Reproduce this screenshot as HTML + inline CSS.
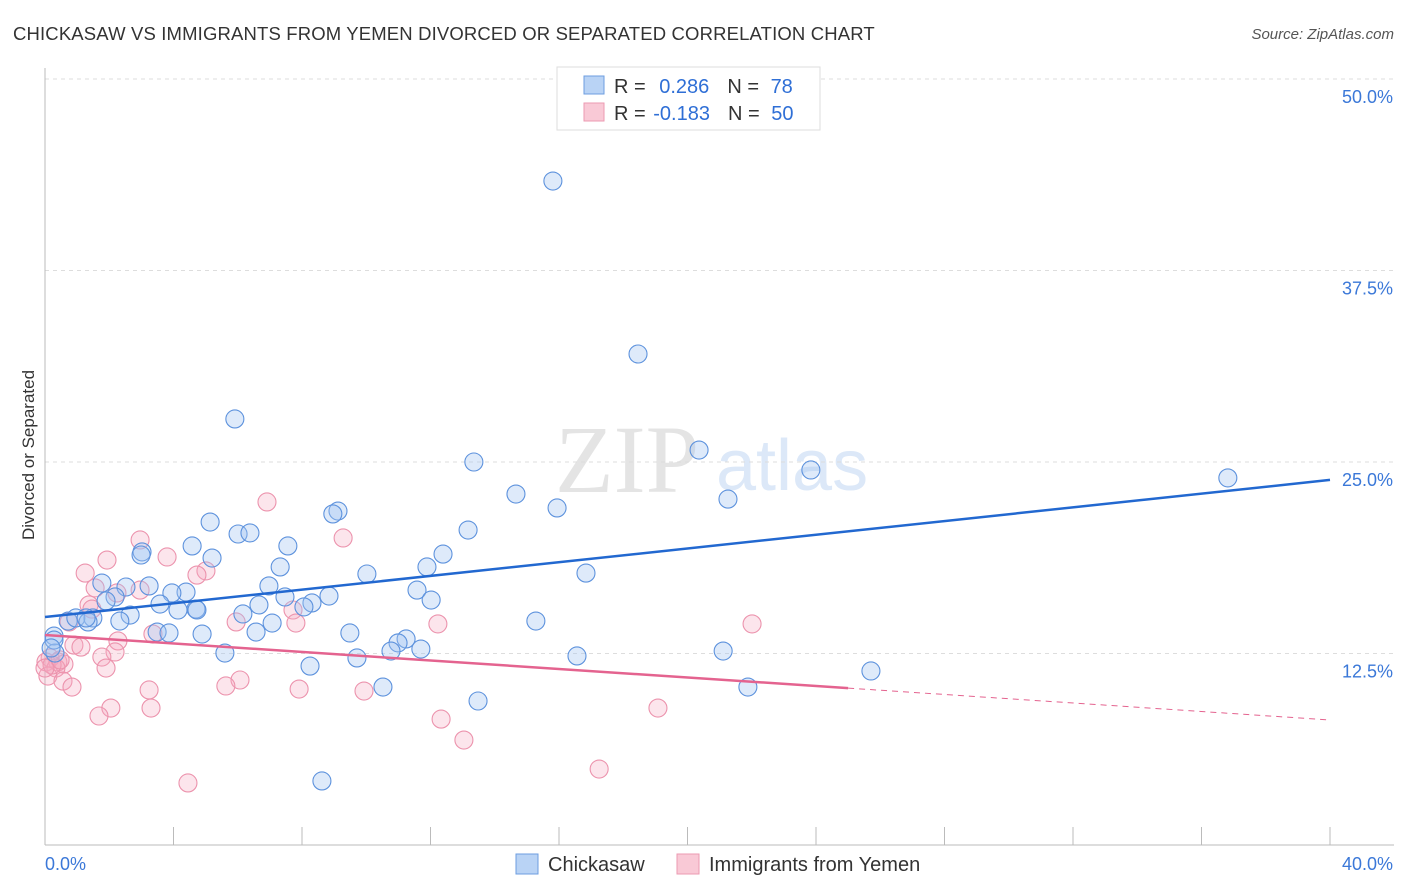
<!DOCTYPE html>
<html><head><meta charset="utf-8"><style>
body{margin:0;background:#fff;font-family:"Liberation Sans",sans-serif;}
svg{display:block}
</style></head><body>
<svg id="chart" width="1406" height="892">
<text x="13" y="40" font-size="18.5" letter-spacing="0.15" fill="#333">CHICKASAW VS IMMIGRANTS FROM YEMEN DIVORCED OR SEPARATED CORRELATION CHART</text>
<text x="1394" y="39" font-size="15" fill="#555" font-style="italic" text-anchor="end">Source: ZipAtlas.com</text>
<text x="34" y="455" font-size="17" fill="#333" text-anchor="middle" transform="rotate(-90 34 455)">Divorced or Separated</text>
<g>
<text x="555" y="492" font-size="96" fill="#e4e4e4" font-family="Liberation Serif,serif">ZIP</text>
<text x="716" y="490" font-size="72" fill="#dce8f8">atlas</text>
</g>
<g id="grid"></g><g id="axes"></g><g id="pink"></g><g id="blue"></g><g id="lines"></g>
<g>
<rect x="557" y="67" width="263" height="63" fill="#fff" stroke="#ddd"/>
<rect x="584" y="76" width="20" height="18" fill="#b9d3f5" stroke="#6d9ee0"/>
<rect x="584" y="103" width="20" height="18" fill="#f9c9d6" stroke="#ec9ab2"/>
<text x="614" y="93" font-size="20" fill="#333">R = <tspan fill="#2f6fd6" dx="8">0.286</tspan><tspan dx="18" fill="#333">N = </tspan><tspan fill="#2f6fd6" dx="6">78</tspan></text>
<text x="614" y="120" font-size="20" fill="#333">R = <tspan fill="#2f6fd6" dx="2">-0.183</tspan><tspan dx="18" fill="#333">N = </tspan><tspan fill="#2f6fd6" dx="6">50</tspan></text>
</g>
<g>
<rect x="516" y="854" width="22" height="20" fill="#b9d3f5" stroke="#6d9ee0"/>
<text x="548" y="871" font-size="20" fill="#333">Chickasaw</text>
<rect x="677" y="854" width="22" height="20" fill="#f9c9d6" stroke="#ec9ab2"/>
<text x="709" y="871" font-size="20" fill="#333">Immigrants from Yemen</text>
</g>
</svg>
<script>
const xTicks=[0,4,8,12,16,20,24,28,32,36,40];
const yTicks=[12.5,25,37.5,50];
const yTickLabels=["12.5%","25.0%","37.5%","50.0%"];
const xEndLabels=["0.0%","40.0%"];
const blueX=[15.81,18.46,5.91,20.36,13.35,23.84,36.82,14.66,21.26,15.94,5.14,9.12,8.96,13.17,6.01,6.38,3.02,4.58,7.56,12.39,5.20,11.89,7.32,10.02,16.84,1.77,2.52,6.97,3.24,4.39,3.95,2.18,7.47,11.58,8.31,8.84,1.90,3.58,12.02,4.70,4.14,8.06,6.66,6.16,2.65,1.49,0.72,0.96,2.33,1.34,15.28,7.07,3.49,3.86,6.57,4.89,9.49,0.28,11.24,10.99,11.70,10.77,21.11,5.60,9.71,16.56,0.31,8.25,25.71,10.52,21.88,13.48,8.62,0.28,0.19,1.28,2.99,4.73];
const blueY=[43.34,32.05,27.81,25.78,25.0,24.48,23.96,22.91,22.58,22.0,21.08,21.80,21.61,20.56,20.30,20.37,19.13,19.52,19.52,18.99,18.73,18.15,18.15,17.69,17.75,17.10,16.84,16.91,16.91,16.51,16.45,16.19,16.19,16.64,15.80,16.25,15.93,15.73,15.99,15.40,15.34,15.54,15.67,15.08,15.01,14.82,14.62,14.82,14.62,14.56,14.62,14.49,13.90,13.84,13.90,13.77,13.84,13.64,13.45,13.19,12.79,12.66,12.66,12.53,12.21,12.34,12.53,11.68,11.36,10.31,10.31,9.40,4.18,13.38,12.86,14.82,18.93,15.34];
const pinkX=[6.91,9.28,2.96,1.93,3.80,1.25,5.01,4.73,1.56,2.24,2.96,1.37,1.46,7.72,5.95,7.81,12.23,22.01,0.75,3.36,2.27,0.90,1.12,2.18,1.77,0.16,0.40,0.59,0.03,0.34,0.09,1.90,0.56,0.84,7.91,6.07,5.63,3.24,9.93,2.05,3.30,1.68,19.08,12.33,13.04,17.25,4.45,0.22,0.47,0.0];
const pinkY=[22.39,20.04,19.91,18.60,18.80,17.75,17.89,17.62,16.78,16.45,16.64,15.67,15.40,15.34,14.56,14.49,14.43,14.43,14.56,13.77,13.32,13.05,12.92,12.60,12.27,12.21,11.95,11.81,11.95,11.55,11.03,11.55,10.70,10.31,10.18,10.77,10.38,10.12,10.05,8.94,8.94,8.42,8.94,8.22,6.85,4.96,4.05,11.75,12.08,11.55];
const blueTrend=[14.88,23.83];
const pinkTrend=[13.71,8.16];
const pinkSolidEnd=25.0;

const NS="http://www.w3.org/2000/svg";
const X0=45,X1=1330,Y0=845,YTOP=79;
const sx=v=>X0+(v-0)/40*(X1-X0);
const sy=v=>Y0-v/50*(Y0-YTOP);
function mk(tag,attrs,parent){const e=document.createElementNS(NS,tag);for(const k in attrs)e.setAttribute(k,attrs[k]);document.getElementById(parent).appendChild(e);return e;}

yTicks.forEach((t,i)=>{
  const l=mk('line',{x1:X0,x2:1394,y1:sy(t),y2:sy(t),stroke:'#ddd','stroke-dasharray':'4,4'},'grid');
  
  
  const tx=mk('text',{x:1393,y:sy(t)+24,'font-size':18,fill:'#3b78d8','text-anchor':'end'},'grid');
  tx.textContent=yTickLabels[i];
  
  
});
let ax=mk('line',{x1:X0,x2:1394,y1:Y0,y2:Y0,stroke:'#bbb'},'axes');


let ay=mk('line',{x1:X0,x2:X0,y1:68,y2:Y0,stroke:'#bbb'},'axes');


xTicks.forEach(t=>{
  const l=mk('line',{x1:sx(t),x2:sx(t),y1:Y0-18,y2:Y0,stroke:'#bbb'},'axes');
  
  
});
[[0,'start',45],[40,'end',1393]].forEach((d,i)=>{
  const tx=mk('text',{x:d[2],y:870,'font-size':18,fill:'#3b78d8','text-anchor':d[1]},'axes');
  tx.textContent=xEndLabels[i];
  
  
});
pinkX.forEach((v,i)=>{
  const c=mk('circle',{cx:sx(v),cy:sy(pinkY[i]),r:9,fill:'rgba(246,170,192,0.3)',stroke:'#ec93ad','stroke-width':1.1},'pink');
  
  
});
blueX.forEach((v,i)=>{
  const c=mk('circle',{cx:sx(v),cy:sy(blueY[i]),r:9,fill:'rgba(160,196,240,0.35)',stroke:'#5d92dd','stroke-width':1.1},'blue');
  
  
});
const bl=mk('line',{x1:sx(0),y1:sy(blueTrend[0]),x2:sx(40),y2:sy(blueTrend[1]),stroke:'#2268d0','stroke-width':2.5},'lines');


const pAt=x=>pinkTrend[0]+(pinkTrend[1]-pinkTrend[0])*x/40;
const pl=mk('line',{x1:sx(0),y1:sy(pinkTrend[0]),x2:sx(pinkSolidEnd),y2:sy(pAt(pinkSolidEnd)),stroke:'#e4638f','stroke-width':2.5},'lines');


const pd=mk('line',{x1:sx(pinkSolidEnd),y1:sy(pAt(pinkSolidEnd)),x2:sx(40),y2:sy(pinkTrend[1]),stroke:'#e4638f','stroke-width':1,'stroke-dasharray':'6,5'},'lines');


</script>
</body></html>
